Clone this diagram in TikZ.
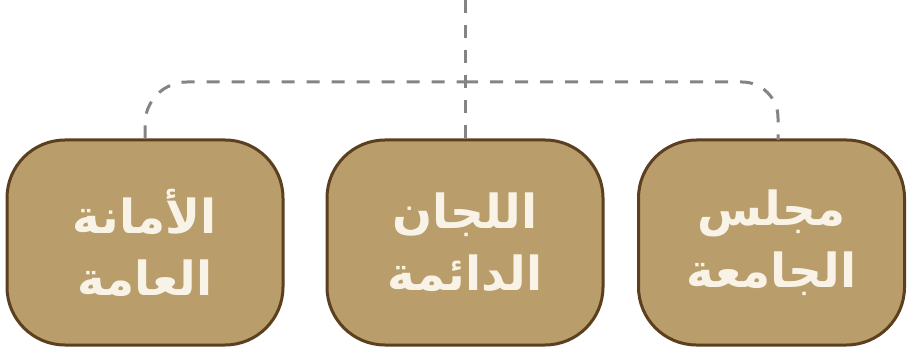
\documentclass[tikz,border=0pt]{standalone}
\usepackage{fontspec}
\newfontfamily\arabicfont[Script=Arabic]{DejaVu Sans}
\TeXXeTstate=1
\definecolor{boxfill}{HTML}{B99D6B}
\definecolor{boxline}{HTML}{5B3F1F}
\definecolor{boxtext}{HTML}{F8F3E6}
\definecolor{dashgray}{HTML}{848484}
\tikzset{
  orgbox/.style={draw=boxline, line width=3pt, fill=boxfill, rounded corners=58pt,
    minimum width=276pt, minimum height=205pt, inner sep=0pt, text=boxtext,
    font=\arabicfont\bfseries\fontsize{47}{62}\selectfont, align=center},
  dashlink/.style={draw=dashgray, line width=3pt, dash pattern=on 13pt off 12pt}
}
\begin{document}
\begin{tikzpicture}[x=1pt,y=-1pt]
\useasboundingbox (0,0) rectangle (907,355);
\node[orgbox] (amana) at (145,242.5) {\beginR الأمانة\endR\\\beginR العامة\endR};
\node[orgbox] (lijan) at (465,242.5) {\beginR اللجان\endR\\\beginR الدائمة\endR};
\node[orgbox, minimum width=266pt] (majlis) at (771.5,242.5) {\beginR مجلس\endR\\\beginR الجامعة\endR};
\coordinate (top) at (465,0);
\coordinate (hub) at (465,82);
\coordinate (rightdrop) at (778,140);
\draw[dashlink] (top) -- (lijan.north);
\draw[dashlink, rounded corners=42pt] (amana.north) |- (hub);
\draw[dashlink, rounded corners=36pt] (hub) -| (rightdrop);
\end{tikzpicture}
\end{document}
